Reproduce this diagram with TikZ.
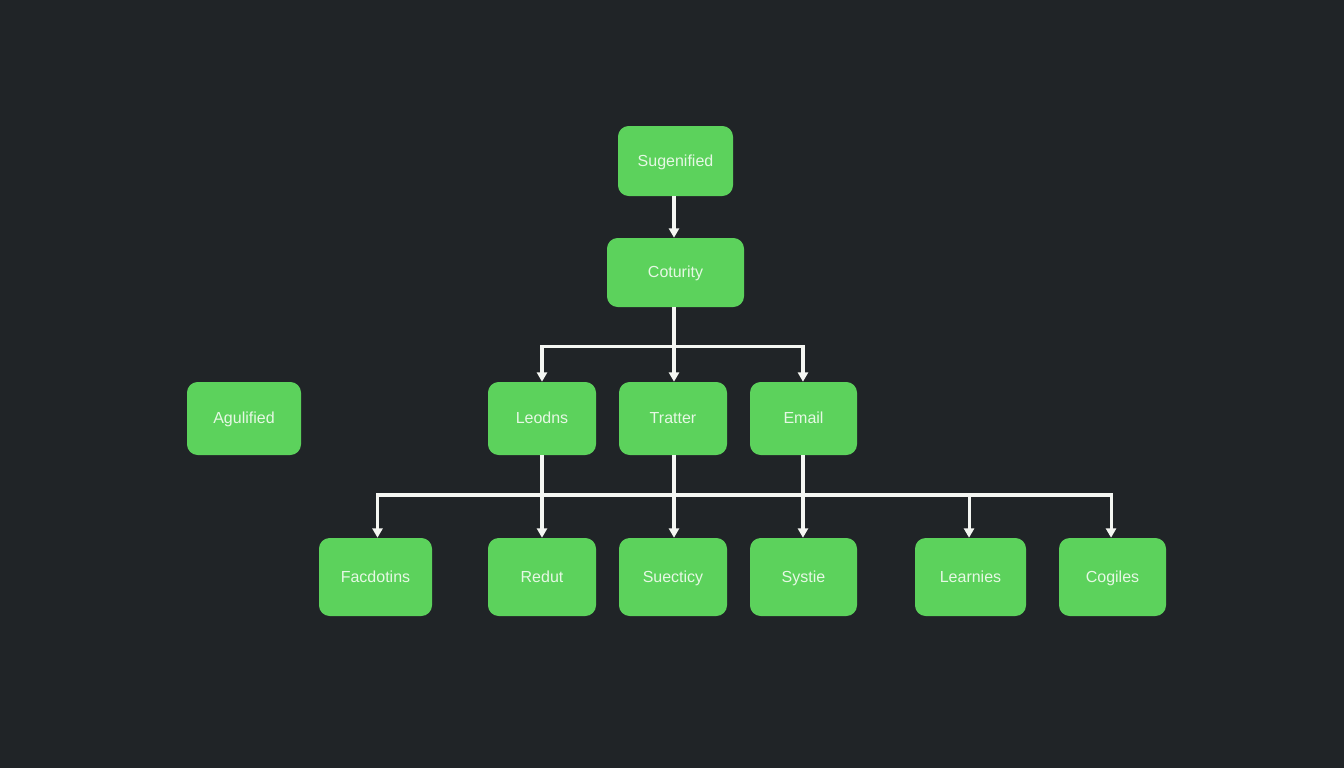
\documentclass[tikz,border=0pt]{standalone}
\usepackage{fontspec}
\setmainfont{Liberation Sans}
\usetikzlibrary{arrows.meta}
\definecolor{bgdark}{HTML}{202427}
\definecolor{boxgreen}{HTML}{5CD25C}
\definecolor{labelc}{HTML}{E6F8E4}
\definecolor{linec}{HTML}{F4F6F2}
\tikzset{
  x=0.75pt,y=-0.75pt,
  box/.style={fill=boxgreen,draw=none,rounded corners=8pt,inner sep=0pt,text=labelc,
    font=\fontsize{12}{14}\selectfont,align=center,text height=9.35pt,text depth=1.65pt},
  conn/.style={draw=linec,line width=2.3pt,line join=miter,-{Triangle[length=7pt,width=7.5pt]}},
  bus/.style={draw=linec,line width=2.3pt,line join=miter},
}
\newcommand{\boxat}[6]{%
  \node[box,minimum width=#4*0.75pt,minimum height=#5*0.75pt] (#1) at (#2,#3) {#6};}
\begin{document}
\begin{tikzpicture}
\useasboundingbox[fill=bgdark] (0,0) rectangle (1344,768);
\boxat{a}{675.5}{161}{115}{70}{Sugenified}
\boxat{b}{675.5}{272.5}{137}{69}{Coturity}
\boxat{c}{542}{418.5}{108}{73}{Leodns}
\boxat{d}{673}{418.5}{108}{73}{Tratter}
\boxat{e}{803.5}{418.5}{107}{73}{Email}
\boxat{f}{244}{418.5}{114}{73}{Agulified}
\boxat{g}{375.5}{577}{113}{78}{Facdotins}
\boxat{h}{542}{577}{108}{78}{Redut}
\boxat{i}{673}{577}{108}{78}{Suecticy}
\boxat{j}{803.5}{577}{107}{78}{Systie}
\boxat{k}{970.5}{577}{111}{78}{Learnies}
\boxat{l}{1112.5}{577}{107}{78}{Cogiles}
\coordinate (tj) at (674,346.5);
\coordinate (mj) at (674,495);
% top
\draw[conn] ([xshift=-1.125pt]a.south) -- ([xshift=-1.125pt]b.north);
\draw[conn] ([xshift=-1.125pt]b.south) -- ([xshift=0.75pt]d.north);
\draw[conn] (tj) -| (c.north);
\draw[conn] (tj) -| ([xshift=-0.4pt]e.north);
% bottom bus
\draw[conn] (mj) -| ([xshift=1.5pt]g.north);
\draw[conn] (mj) -| ([xshift=-1.1pt]k.north);
\draw[conn] (mj) -| ([xshift=-1.1pt]l.north);
\draw[conn] (c.south) -- (h.north);
\draw[conn] ([xshift=0.75pt]d.south) -- ([xshift=0.75pt]i.north);
\draw[conn] ([xshift=-0.4pt]e.south) -- ([xshift=-0.4pt]j.north);
\end{tikzpicture}
\end{document}
